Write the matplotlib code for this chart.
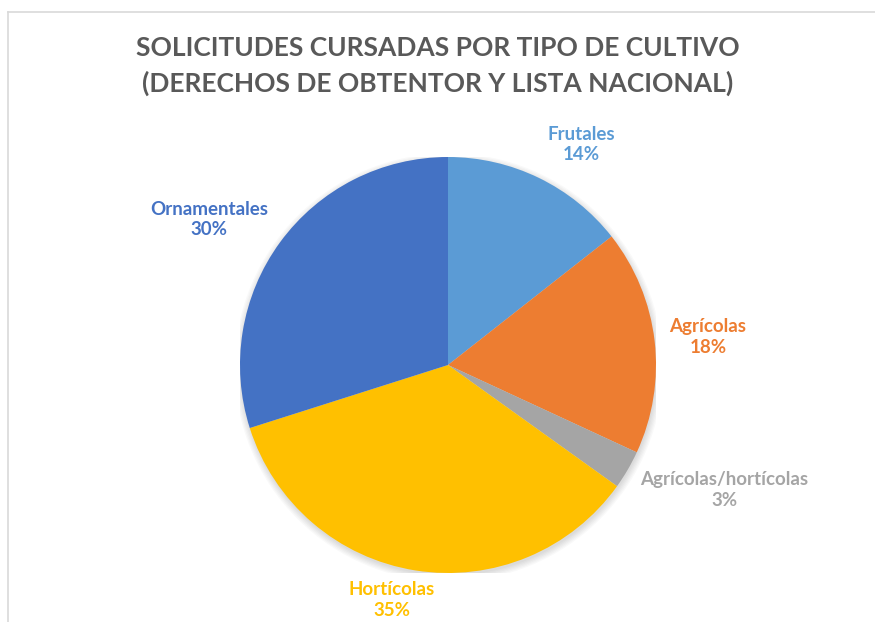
import matplotlib
matplotlib.use('Agg')
import matplotlib.pyplot as plt
from matplotlib.lines import Line2D
from matplotlib.patches import Circle

plt.rcParams['font.family'] = ['Lato', 'DejaVu Sans']

categories = ['Frutales', 'Agrícolas', 'Agrícolas/hortícolas', 'Hortícolas', 'Ornamentales']
shares = [14.4, 17.5, 3.0, 35.2, 29.9]
pct_labels = ['14%', '18%', '3%', '35%', '30%']
colors = ['#5B9BD5', '#ED7D31', '#A5A5A5', '#FFC000', '#4472C4']
# label centres, in pie-radius units from the centre
label_pos = [(0.64, 1.06), (1.25, 0.135), (1.33, -0.60), (-0.27, -1.13), (-1.15, 0.70)]

W, H = 875, 622
fig = plt.figure(figsize=(W / 100, H / 100), dpi=100)

# light frame like the Excel chart area
fig.add_artist(Line2D([8 / W, 1], [1 - 12 / H, 1 - 12 / H], color='#D9D9D9', lw=1.2))
fig.add_artist(Line2D([8 / W, 8 / W], [0, 1 - 12 / H], color='#D9D9D9', lw=1.2))

cx, cy, r = 448, 365, 208
ax = fig.add_axes([(cx - r) / W, 1 - (cy + r) / H, 2 * r / W, 2 * r / H])

# soft shadow under the pie
for k in range(6):
    ax.add_patch(Circle((0.004, -0.012), 1.0 + 0.006 * k, color='black',
                        alpha=0.025, lw=0, zorder=0))

wedges, _ = ax.pie(shares, colors=colors, startangle=90, counterclock=False,
                   wedgeprops=dict(linewidth=0, zorder=2))
ax.set_xlim(-1, 1)
ax.set_ylim(-1, 1)
ax.set_aspect('equal')
ax.axis('off')

for name, pct, col, (lx, ly) in zip(categories, pct_labels, colors, label_pos):
    ax.text(lx, ly, name + '\n' + pct, ha='center', va='center', color=col,
            fontsize=13.5, fontweight='bold', linespacing=1.25, clip_on=False)

fig.text(0.5, 1 - 66 / H, 'SOLICITUDES CURSADAS POR TIPO DE CULTIVO\n(DERECHOS DE OBTENTOR Y LISTA NACIONAL)',
         ha='center', va='center', fontsize=19, fontweight='bold', color='#595959',
         linespacing=1.5)

fig.savefig('out.png', dpi=100, facecolor='white')
